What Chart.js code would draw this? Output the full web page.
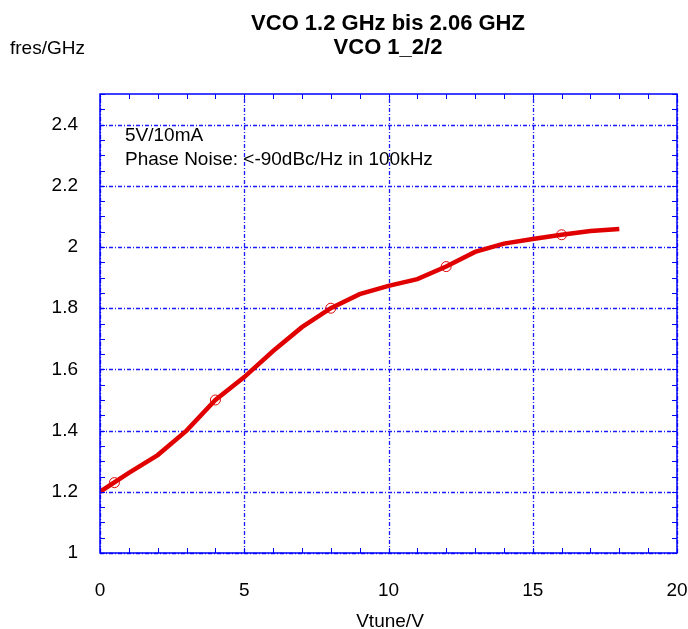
<!DOCTYPE html>
<html>
<head>
<meta charset="utf-8">
<script src="https://cdn.jsdelivr.net/npm/chart.js"></script>
<style>
  body { margin: 0; background: #fff; }
</style>
</head>
<body>
<canvas id="vcoChart" width="688" height="629"></canvas>
<script>
// curve
const vtune = [0, 1, 2, 3, 4, 5, 6, 7, 8, 9, 10, 11, 12, 13, 14, 15, 16, 17, 18];
const fres = [1.20, 1.262, 1.32, 1.40, 1.50, 1.575, 1.66, 1.738, 1.80, 1.846, 1.873, 1.895, 1.936, 1.984, 2.011, 2.026, 2.04, 2.052, 2.059];

// measured points (circles)
const markVtune = [0.5, 4, 8, 12, 16];
const markFres = [1.23, 1.50, 1.80, 1.936, 2.04];

const xTicks = [0, 5, 10, 15, 20];
const yTicks = [1, 1.2, 1.4, 1.6, 1.8, 2, 2.2, 2.4];

const titleLines = ["VCO 1.2 GHz bis 2.06 GHZ", "VCO 1_2/2"];
const notes = ["5V/10mA", "Phase Noise: <-90dBc/Hz in 100kHz"];

const FONT = "'Liberation Sans', Arial, sans-serif";
const BLUE = "#0000ff";

// dash-dot grid under the curve
const gridLines = {
  id: "gridLines",
  beforeDatasetsDraw(chart) {
    const c = chart.ctx, a = chart.chartArea;
    const xs = chart.scales.x, ys = chart.scales.y;
    c.save();
    c.strokeStyle = "#1a1aff";
    c.lineWidth = 1.3;
    c.setLineDash([4, 2, 1, 2]);
    c.beginPath();
    xTicks.forEach(v => {
      const px = Math.round(xs.getPixelForValue(v)) + 0.5;
      c.moveTo(px, a.bottom); c.lineTo(px, a.top);
    });
    yTicks.forEach(v => {
      const py = Math.round(ys.getPixelForValue(v)) + 0.5;
      c.moveTo(a.left, py); c.lineTo(a.right, py);
    });
    c.stroke();
    c.restore();
  }
};

const frame = {
  id: "frame",
  afterDraw(chart) {
    const c = chart.ctx, a = chart.chartArea;
    const xs = chart.scales.x, ys = chart.scales.y;
    c.save();
    c.strokeStyle = BLUE;
    c.lineWidth = 1.5;
    c.strokeRect(a.left, a.top, a.right - a.left, a.bottom - a.top);
    c.lineWidth = 1;
    c.beginPath();
    for (let v = 0; v <= 20; v += 1) {
      const px = Math.round(xs.getPixelForValue(v)) + 0.5;
      c.moveTo(px, a.bottom); c.lineTo(px, a.bottom - 5);
      c.moveTo(px, a.top); c.lineTo(px, a.top + 5);
    }
    for (let i = 0; i <= 30; i++) {
      const py = Math.round(ys.getPixelForValue(1 + i * 0.05)) + 0.5;
      c.moveTo(a.left, py); c.lineTo(a.left + 5, py);
      c.moveTo(a.right, py); c.lineTo(a.right - 5, py);
    }
    c.stroke();

    c.fillStyle = "#000";
    c.textAlign = "center";
    c.textBaseline = "alphabetic";
    c.font = "bold 22px " + FONT;
    c.fillText(titleLines[0], 388, 30);
    c.fillText(titleLines[1], 388, 54);

    c.font = "19px " + FONT;
    c.textAlign = "left";
    c.fillText("fres/GHz", 10, 54);
    c.fillText(notes[0], 125, 141);
    c.fillText(notes[1], 125, 165);

    c.textAlign = "center";
    c.fillText("Vtune/V", 390, 627);
    c.restore();
  }
};

const fmt = (v) => String(Number(v.toFixed(2)));

new Chart(document.getElementById("vcoChart"), {
  type: "line",
  data: {
    datasets: [
      {
        data: vtune.map((v, i) => ({ x: v, y: fres[i] })),
        borderColor: "#e00000",
        borderWidth: 4.5,
        pointRadius: 0,
        tension: 0,
        fill: false
      },
      {
        data: markVtune.map((v, i) => ({ x: v, y: markFres[i] })),
        showLine: false,
        pointRadius: 5,
        pointBorderWidth: 1,
        pointBorderColor: "#e00000",
        pointBackgroundColor: "rgba(0,0,0,0)"
      }
    ]
  },
  options: {
    responsive: false,
    animation: false,
    layout: { padding: { top: 94, right: 11, left: 0, bottom: 0 } },
    plugins: {
      legend: { display: false },
      title: { display: false },
      tooltip: { enabled: false }
    },
    scales: {
      x: {
        type: "linear",
        min: 0,
        max: 20,
        afterFit: (s) => { s.height = 76; s.paddingLeft = 0; s.paddingRight = 0; },
        afterBuildTicks: (s) => { s.ticks = xTicks.map(v => ({ value: v })); },
        grid: { display: false },
        border: { display: false },
        ticks: { color: "#000", padding: 18, font: { family: FONT, size: 19 }, callback: fmt }
      },
      y: {
        min: 1,
        max: 2.5,
        afterFit: (s) => { s.width = 100; s.paddingTop = 0; s.paddingBottom = 0; },
        afterBuildTicks: (s) => { s.ticks = yTicks.map(v => ({ value: v })); },
        grid: { display: false },
        border: { display: false },
        ticks: { color: "#000", padding: 14, font: { family: FONT, size: 19 }, callback: fmt }
      }
    }
  },
  plugins: [gridLines, frame]
});
</script>
</body>
</html>
